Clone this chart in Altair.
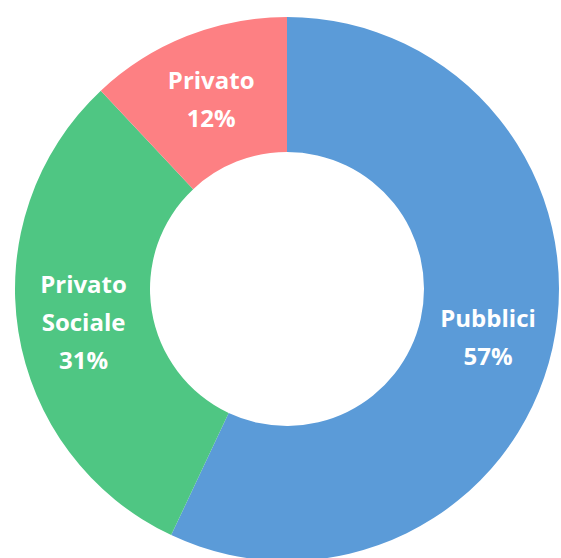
import altair as alt
import pandas as pd

categories = ["Pubblici", "Privato Sociale", "Privato"]
values = [57, 31, 12]
labels = ["Pubblici\n57%", "Privato\nSociale\n31%", "Privato\n12%"]
order = [1, 2, 3]
colors = ["#5B9BD8", "#4FC683", "#FD8083"]
label_dy = [-14, -35, -15]

df = pd.DataFrame({"cat": categories, "val": values, "label": labels, "ord": order})

base = alt.Chart(df).encode(
    theta=alt.Theta("val:Q", stack=True),
    order=alt.Order("ord:Q"),
)

arcs = base.mark_arc(radius=272, radius2=137).encode(
    color=alt.Color("cat:N", scale=alt.Scale(domain=categories, range=colors), legend=None)
)

layers = [arcs]
for cat, dy in zip(categories, label_dy):
    layers.append(
        base.mark_text(
            radius=206, dy=dy, lineBreak="\n", lineHeight=38, font="Open Sans",
            fontWeight="bold", fontSize=24, color="white", baseline="middle",
            align="center",
        ).encode(
            text=alt.condition(alt.datum.cat == cat, "label:N", alt.value(""))
        )
    )

chart = alt.layer(*layers).properties(
    width=548, height=538, autosize="none",
    padding={"left": 13, "top": 20, "right": 0, "bottom": 0},
    background="white",
).configure_view(strokeWidth=0)

chart.save("out.html", embed_options={"renderer": "svg", "actions": False})
